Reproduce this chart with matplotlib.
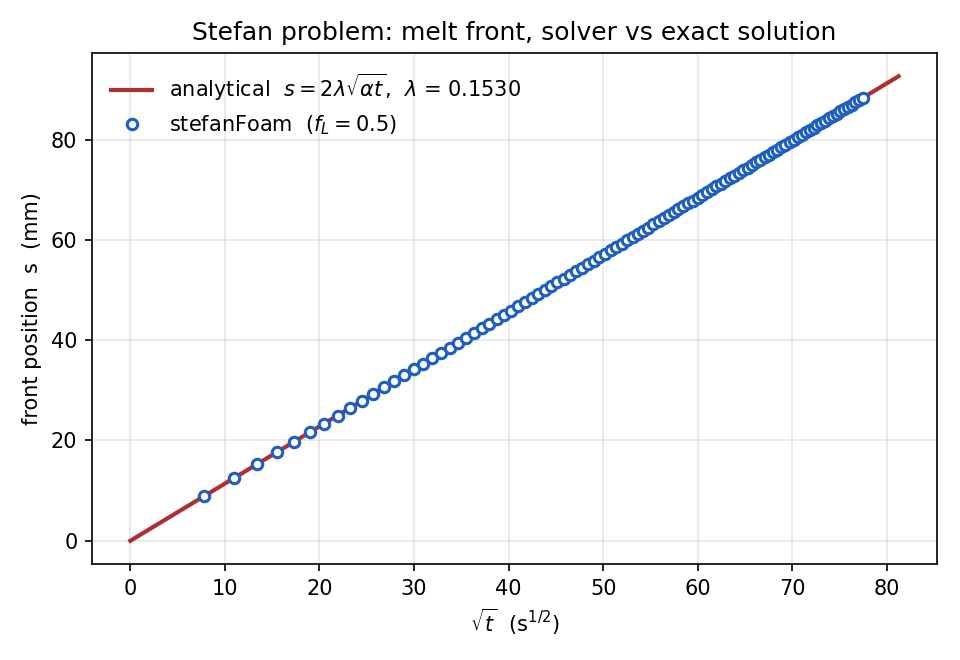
import numpy as np
import matplotlib
matplotlib.use("Agg")
import matplotlib.pyplot as plt

# ============================================================
# Data
# ============================================================

# solver output times (s) and front positions (mm)
t_sim = [60, 120, 180, 240, 300, 360, 420, 480, 540, 600,
         660, 720, 780, 840, 900, 960, 1020, 1080, 1140, 1200,
         1260, 1320, 1380, 1440, 1500, 1560, 1620, 1680, 1740, 1800,
         1860, 1920, 1980, 2040, 2100, 2160, 2220, 2280, 2340, 2400,
         2460, 2520, 2580, 2640, 2700, 2760, 2820, 2880, 2940, 3000,
         3060, 3120, 3180, 3240, 3300, 3360, 3420, 3480, 3540, 3600,
         3660, 3720, 3780, 3840, 3900, 3960, 4020, 4080, 4140, 4200,
         4260, 4320, 4380, 4440, 4500, 4560, 4620, 4680, 4740, 4800,
         4860, 4920, 4980, 5040, 5100, 5160, 5220, 5280, 5340, 5400,
         5460, 5520, 5580, 5640, 5700, 5760, 5820, 5880, 5940, 6000]
s_sim = [8.83, 12.49, 15.29, 17.66, 19.74, 21.63, 23.36, 24.97, 26.49, 27.92,
         29.29, 30.59, 31.84, 33.04, 34.20, 35.32, 36.41, 37.46, 38.49, 39.49,
         40.46, 41.42, 42.35, 43.26, 44.15, 45.02, 45.88, 46.72, 47.55, 48.36,
         49.16, 49.95, 50.72, 51.49, 52.24, 52.98, 53.71, 54.43, 55.14, 55.85,
         56.54, 57.22, 57.90, 58.57, 59.23, 59.89, 60.54, 61.18, 61.81, 62.44,
         63.06, 63.67, 64.28, 64.89, 65.48, 66.08, 66.66, 67.25, 67.82, 68.40,
         68.96, 69.53, 70.09, 70.64, 71.19, 71.73, 72.28, 72.81, 73.35, 73.88,
         74.40, 74.93, 75.44, 75.96, 76.47, 76.98, 77.48, 77.99, 78.48, 78.98,
         79.47, 79.96, 80.44, 80.93, 81.41, 81.89, 82.36, 82.83, 83.30, 83.77,
         84.23, 84.69, 85.15, 85.61, 86.06, 86.52, 86.97, 87.41, 87.86, 88.30]

# analytical solution parameters
lam = 0.1530
alpha = 1.388e-5     # thermal diffusivity (m^2/s)
t_end = 6600.0       # end time of analytical curve (s)

# ============================================================
# Plot
# ============================================================

t_an = np.linspace(0.0, t_end, 200)
s_an = 2 * lam * np.sqrt(alpha * t_an) * 1000.0

fig = plt.figure(figsize=(6.4, 4.4), dpi=150)
ax = fig.add_axes([0.0958, 0.1455, 0.8802, 0.7742])

ax.plot(np.sqrt(t_an), s_an, "-", color="#b03030", linewidth=2,
        label=r"analytical  $s = 2\lambda\sqrt{\alpha t}$,  $\lambda$ = %.4f" % lam)
ax.plot(np.sqrt(t_sim), s_sim, "o", markerfacecolor="white",
        markeredgecolor="#1f5fc0", markeredgewidth=1.5, markersize=5,
        label=r"stefanFoam  ($f_L = 0.5$)")

ax.set_title("Stefan problem: melt front, solver vs exact solution", fontsize=12)
ax.set_xlabel(r"$\sqrt{t}$  (s$^{1/2}$)")
ax.set_ylabel("front position  s  (mm)")
ax.grid(True, alpha=0.3)
ax.legend(frameon=False, loc="upper left")

plt.savefig("out.png", dpi=150)
